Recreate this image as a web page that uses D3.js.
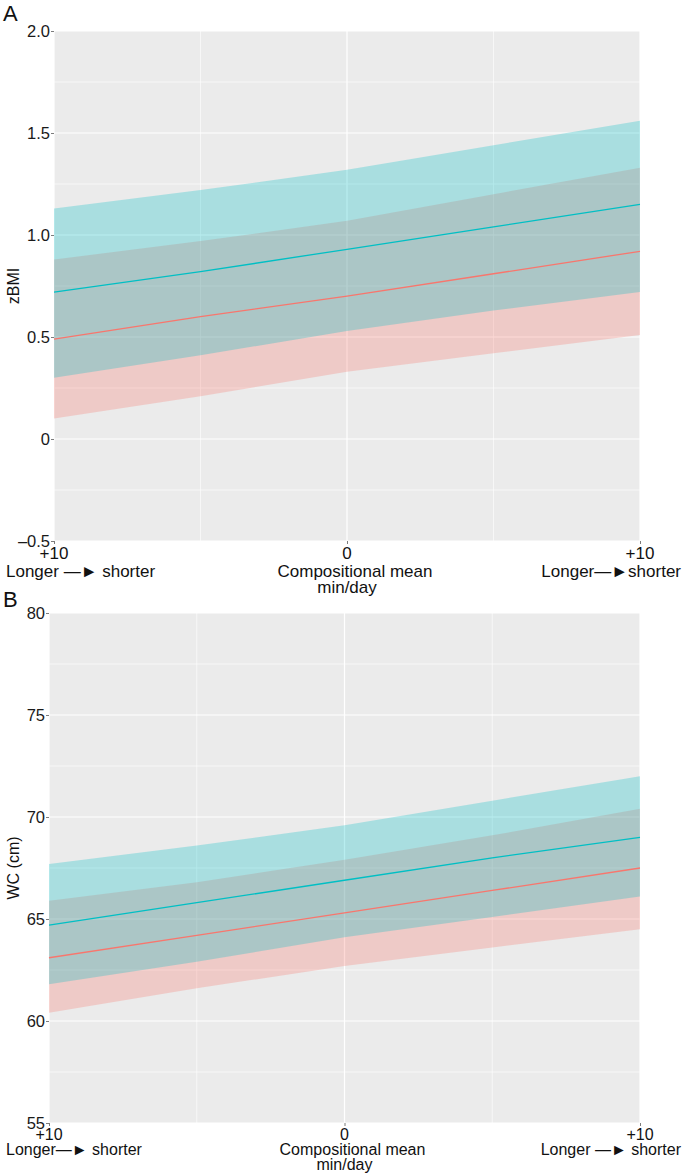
<!DOCTYPE html>
<html>
<head>
<meta charset="utf-8">
<script src="https://cdn.jsdelivr.net/npm/d3@7"></script>
<style>
  html, body { margin: 0; padding: 0; background: #fff; }
  svg { display: block; font-family: "Liberation Sans", Arial, sans-serif; }
</style>
</head>
<body>
<svg id="chart" width="683" height="1175"></svg>
<script>
// ---- data ----
const xValues = [-10, -5, 0, 5, 10];
const xTickValues = [-10, 0, 10];
const xTickLabels = ["+10", "0", "+10"];

// Panel A: zBMI
const zbmiTicks = [-0.5, 0, 0.5, 1.0, 1.5, 2.0];
const zbmiTickLabels = ["\u20130.5", "0", "0.5", "1.0", "1.5", "2.0"];
const zbmiRedLine   = [0.49, 0.60, 0.70, 0.81, 0.92];
const zbmiRedLower  = [0.10, 0.21, 0.33, 0.42, 0.51];
const zbmiRedUpper  = [0.88, 0.97, 1.07, 1.20, 1.33];
const zbmiCyanLine  = [0.72, 0.82, 0.93, 1.04, 1.15];
const zbmiCyanLower = [0.30, 0.41, 0.53, 0.63, 0.72];
const zbmiCyanUpper = [1.13, 1.22, 1.32, 1.44, 1.56];

// Panel B: WC (cm)
const wcTicks = [55, 60, 65, 70, 75, 80];
const wcTickLabels = ["55", "60", "65", "70", "75", "80"];
const wcRedLine   = [63.1, 64.2, 65.3, 66.4, 67.5];
const wcRedLower  = [60.4, 61.6, 62.7, 63.6, 64.5];
const wcRedUpper  = [65.9, 66.8, 67.9, 69.1, 70.4];
const wcCyanLine  = [64.7, 65.8, 66.9, 68.0, 69.0];
const wcCyanLower = [61.8, 62.9, 64.1, 65.1, 66.1];
const wcCyanUpper = [67.7, 68.6, 69.6, 70.8, 72.0];

const leftSubLabelsA = "Longer \u2014\u25BA shorter";
const rightSubLabelsA = "Longer\u2014\u25BAshorter";
const leftSubLabelsB = "Longer\u2014\u25BA shorter";
const rightSubLabelsB = "Longer \u2014\u25BA shorter";
const centerSubLabel1 = "Compositional mean";
const centerSubLabel2 = "min/day";

const RED = "#F8766D", CYAN = "#00BFC4";

const svg = d3.select("#chart");

function panel(cfg) {
  const x = d3.scaleLinear().domain([-10, 10]).range([cfg.left, cfg.right]);
  const y = d3.scaleLinear().domain(cfg.yDomain).range([cfg.bottom, cfg.top]);
  const g = svg.append("g");

  g.append("rect").attr("x", cfg.left).attr("y", cfg.top)
    .attr("width", cfg.right - cfg.left).attr("height", cfg.bottom - cfg.top)
    .attr("fill", "#EBEBEB");

  // minor gridlines
  const yMinor = cfg.yTicks.slice(0, -1).map((v, i) => (v + cfg.yTicks[i + 1]) / 2);
  g.selectAll(".ymin").data(yMinor).join("line")
    .attr("x1", cfg.left).attr("x2", cfg.right)
    .attr("y1", d => y(d)).attr("y2", d => y(d))
    .attr("stroke", "#fff").attr("stroke-width", 0.6);
  g.selectAll(".xmin").data([-5, 5]).join("line")
    .attr("y1", cfg.top).attr("y2", cfg.bottom)
    .attr("x1", d => x(d)).attr("x2", d => x(d))
    .attr("stroke", "#fff").attr("stroke-width", 0.6);
  // major gridlines
  g.selectAll(".ymaj").data(cfg.yTicks).join("line")
    .attr("x1", cfg.left).attr("x2", cfg.right)
    .attr("y1", d => y(d)).attr("y2", d => y(d))
    .attr("stroke", "#fff").attr("stroke-width", 1.2);
  g.selectAll(".xmaj").data(xTickValues).join("line")
    .attr("y1", cfg.top).attr("y2", cfg.bottom)
    .attr("x1", d => x(d)).attr("x2", d => x(d))
    .attr("stroke", "#fff").attr("stroke-width", 1.2);

  const rows = xValues.map((xv, i) => ({x: xv,
    rl: cfg.red[0][i], rlo: cfg.red[1][i], rhi: cfg.red[2][i],
    cl: cfg.cyan[0][i], clo: cfg.cyan[1][i], chi: cfg.cyan[2][i]}));

  const areaR = d3.area().x(d => x(d.x)).y0(d => y(d.rlo)).y1(d => y(d.rhi));
  const areaC = d3.area().x(d => x(d.x)).y0(d => y(d.clo)).y1(d => y(d.chi));
  g.append("path").datum(rows).attr("d", areaR).attr("fill", RED).attr("fill-opacity", 0.28);
  g.append("path").datum(rows).attr("d", areaC).attr("fill", CYAN).attr("fill-opacity", 0.28);

  const lineR = d3.line().x(d => x(d.x)).y(d => y(d.rl));
  const lineC = d3.line().x(d => x(d.x)).y(d => y(d.cl));
  g.append("path").datum(rows).attr("d", lineR).attr("fill", "none").attr("stroke", RED).attr("stroke-width", 1.3);
  g.append("path").datum(rows).attr("d", lineC).attr("fill", "none").attr("stroke", CYAN).attr("stroke-width", 1.3);

  // y axis
  const yAxis = d3.axisLeft(y).tickValues(cfg.yTicks)
    .tickFormat((d, i) => cfg.yTickLabels[i]).tickSize(3).tickPadding(1);
  const ya = g.append("g").attr("transform", `translate(${cfg.left},0)`).call(yAxis);
  ya.select(".domain").remove();
  ya.selectAll(".tick line").attr("stroke", "#444").attr("stroke-width", 0.7);
  ya.selectAll(".tick text").attr("fill", "#1a1a1a").attr("font-size", 16.5)
    .attr("font-family", "Liberation Sans, Arial, sans-serif");

  // x axis ticks
  const xAxis = d3.axisBottom(x).tickValues(xTickValues).tickFormat("").tickSize(3);
  const xa = g.append("g").attr("transform", `translate(0,${cfg.bottom})`).call(xAxis);
  xa.select(".domain").remove();
  xa.selectAll(".tick line").attr("stroke", "#444").attr("stroke-width", 0.7);

  // x tick labels
  const fs = cfg.xfs;
  g.selectAll(".xl").data(xTickValues).join("text")
    .attr("x", d => x(d)).attr("y", cfg.bottom + cfg.l1)
    .attr("text-anchor", "middle").attr("font-size", fs).attr("fill", "#111")
    .text((d, i) => xTickLabels[i]);
  g.append("text").attr("x", 6).attr("y", cfg.bottom + cfg.l2)
    .attr("font-size", fs).attr("fill", "#111").text(cfg.leftSub);
  g.append("text").attr("x", 681).attr("y", cfg.bottom + cfg.l2)
    .attr("text-anchor", "end").attr("font-size", fs).attr("fill", "#111").text(cfg.rightSub);
  g.append("text").attr("x", x(0) + 8).attr("y", cfg.bottom + cfg.l2)
    .attr("text-anchor", "middle").attr("font-size", fs).attr("fill", "#111").text(centerSubLabel1);
  g.append("text").attr("x", x(0)).attr("y", cfg.bottom + cfg.l3)
    .attr("text-anchor", "middle").attr("font-size", fs).attr("fill", "#111").text(centerSubLabel2);

  // y title
  g.append("text").attr("transform", `translate(${cfg.titleX},${(cfg.top + cfg.bottom) / 2}) rotate(-90)`)
    .attr("text-anchor", "middle").attr("font-size", 16).attr("fill", "#111").text(cfg.yTitle);

  // panel letter
  g.append("text").attr("x", 3).attr("y", cfg.letterY).attr("font-size", 22).attr("fill", "#111").text(cfg.letter);
}

panel({left: 54, right: 640, top: 31, bottom: 541, yDomain: [-0.5, 2.0],
  yTicks: zbmiTicks, yTickLabels: zbmiTickLabels,
  red: [zbmiRedLine, zbmiRedLower, zbmiRedUpper],
  cyan: [zbmiCyanLine, zbmiCyanLower, zbmiCyanUpper],
  leftSub: leftSubLabelsA, rightSub: rightSubLabelsA, xfs: 17,
  l1: 18, l2: 36, l3: 52, yTitle: "zBMI", titleX: 19, letter: "A", letterY: 21});

panel({left: 49, right: 640, top: 613, bottom: 1123, yDomain: [55, 80],
  yTicks: wcTicks, yTickLabels: wcTickLabels,
  red: [wcRedLine, wcRedLower, wcRedUpper],
  cyan: [wcCyanLine, wcCyanLower, wcCyanUpper],
  leftSub: leftSubLabelsB, rightSub: rightSubLabelsB, xfs: 16,
  l1: 17, l2: 32, l3: 47, yTitle: "WC (cm)", titleX: 19, letter: "B", letterY: 607});
</script>
</body>
</html>
